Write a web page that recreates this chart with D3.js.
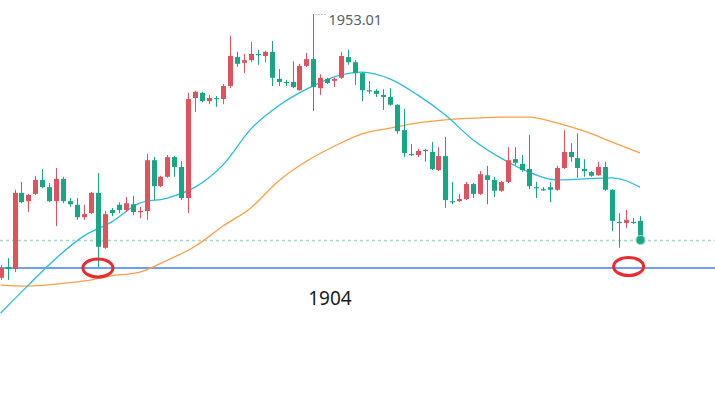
<!DOCTYPE html>
<html>
<head>
<meta charset="utf-8">
<script src="https://cdn.jsdelivr.net/npm/d3@7"></script>
<style>
  html, body { margin: 0; padding: 0; background: #fff; }
  #mySVG { display: block; }
</style>
</head>
<body>
<svg id="mySVG" width="715" height="393"></svg>
<script>
// ---candle data---
var Opens = [1902.1,1904.2,1903.8,1918.5,1916.9,1918.3,1921.0,1919.6,1916.9,1921.2,
  1916.9,1916.2,1913.8,1914.6,1918.5,1907.9,1915.2,1916.2,1915.2,1916.3,
  1914.8,1915.0,1924.8,1919.8,1921.6,1925.4,1923.5,1917.5,1936.8,1937.8,
  1936.2,1936.8,1936.6,1939.1,1944.7,1943.6,1944.1,1945.3,1944.9,1945.7,
  1940.5,1939.9,1939.9,1938.3,1943.0,1944.3,1938.7,1940.5,1940.1,1940.7,
  1944.7,1943.7,1941.6,1938.3,1938.2,1937.4,1937.0,1935.5,1930.6,1926.0,
  1925.8,1926.8,1926.4,1922.9,1925.6,1916.9,1916.9,1917.3,1920.2,1918.3,
  1921.9,1921.0,1918.9,1920.6,1925.0,1924.1,1923.1,1919.6,1919.2,1919.6,
  1919.1,1923.3,1926.4,1925.2,1923.1,1922.5,1921.9,1923.5,1919.1,1912.9,
  1912.7,1912.9,1913.1]
var Highs = [1904.6,1905.9,1919.1,1920.6,1918.3,1921.8,1923.1,1920.4,1923.3,1921.6,
  1917.5,1917.5,1916.2,1918.7,1922.3,1915.0,1915.6,1916.7,1917.7,1917.9,
  1915.8,1926.0,1925.4,1921.8,1925.8,1925.6,1924.6,1937.8,1938.2,1938.0,
  1937.4,1937.2,1939.5,1948.8,1945.7,1945.3,1947.6,1946.1,1945.9,1947.8,
  1942.4,1940.3,1943.9,1943.4,1945.5,1953.01,1941.4,1940.7,1940.7,1945.7,
  1946.1,1944.1,1941.8,1940.1,1938.5,1938.5,1938.7,1935.6,1934.7,1927.9,
  1927.0,1927.0,1928.3,1927.3,1929.3,1920.6,1918.3,1920.6,1920.4,1922.7,
  1923.7,1921.6,1920.8,1927.3,1927.3,1925.8,1929.7,1920.6,1919.6,1920.6,
  1923.7,1930.6,1928.1,1930.0,1925.0,1922.7,1924.5,1924.5,1919.2,1914.6,
  1915.2,1913.6,1914.0]
var Lows = [1901.7,1901.7,1903.2,1916.5,1914.8,1918.1,1919.4,1916.7,1912.1,1916.5,
  1915.8,1913.3,1913.3,1914.4,1904.2,1907.7,1914.0,1914.6,1914.8,1914.2,
  1913.6,1913.3,1917.1,1919.6,1921.4,1921.6,1917.1,1914.6,1934.1,1936.0,
  1935.6,1935.1,1935.6,1938.7,1942.8,1941.6,1943.7,1943.2,1943.7,1939.1,
  1939.1,1939.1,1938.7,1938.2,1942.8,1934.3,1937.4,1939.5,1938.9,1940.5,
  1943.2,1939.3,1936.2,1937.6,1937.0,1934.5,1935.3,1929.9,1925.4,1925.6,
  1925.4,1924.5,1922.9,1922.7,1915.6,1916.3,1916.7,1917.1,1917.5,1918.1,
  1916.3,1917.7,1918.7,1920.4,1923.9,1922.5,1919.2,1917.5,1918.9,1916.7,
  1918.9,1923.1,1924.5,1921.4,1921.6,1921.6,1921.8,1918.9,1911.1,1907.9,
  1911.7,1912.5,1909.2]
var Closes = [1904.0,1903.8,1918.5,1916.7,1918.1,1921.0,1919.6,1916.9,1921.2,1916.9,
  1916.3,1913.8,1914.4,1918.5,1908.1,1914.4,1914.6,1915.2,1916.5,1914.8,
  1915.0,1924.8,1919.8,1921.6,1925.4,1923.5,1917.5,1936.6,1938.0,1936.2,
  1936.8,1936.6,1939.1,1944.9,1943.4,1944.1,1945.3,1945.1,1945.7,1940.7,
  1939.9,1939.7,1938.9,1943.0,1944.3,1938.9,1940.7,1939.7,1940.5,1944.9,
  1943.7,1941.6,1938.3,1938.2,1937.6,1937.0,1935.5,1930.4,1926.2,1925.8,
  1926.6,1926.6,1923.1,1925.6,1917.1,1916.7,1917.3,1920.2,1918.3,1922.1,
  1921.0,1918.9,1920.6,1924.8,1924.3,1922.9,1919.8,1919.4,1919.1,1919.1,
  1923.3,1926.4,1925.4,1923.3,1922.7,1921.8,1923.5,1919.1,1913.1,1912.7,
  1913.3,1912.7,1909.4]

// ---moving averages, sampled every 4th candle---
var MaIdx = [0,4,8,12,16,20,24,28,32,36,40,44,48,52,56,60,64,68,72,76,80,84,88,92]
var MaFast = [1895.3,1900.7,1905.9,1910.2,1912.9,1916.5,1917.5,1919.6,1923.9,1930.8,
  1935.3,1938.5,1940.9,1941.8,1940.5,1937.4,1933.5,1928.7,1925.2,1922.5,
  1921.0,1921.2,1921.4,1919.6]
var MaSlow = [1900.7,1900.5,1900.9,1901.5,1902.5,1903.2,1905.5,1908.2,1912.1,1915.6,
  1920.8,1924.6,1927.5,1929.9,1931.0,1932.0,1932.6,1932.9,1933.1,1933.1,
  1932.0,1930.4,1928.3,1926.2]

// ---levels and notes---
var SupportLevel = 1904
var SupportLabel = "1904"
var HighLabel = "1953.01"
var MarkIdx = [14, 90]

var UpColor = "#e0525e"
var DownColor = "#17a784"

var MySVG = d3.select("#mySVG")

var X = d3.scaleLinear().domain([0, Opens.length - 1]).range([0.6, 640])
var Y = d3.scaleLinear().domain([1904, 1953.01]).range([268, 14])

var candles = d3.range(Opens.length).map(function(i)
{
    return { i: i, o: Opens[i], h: Highs[i], l: Lows[i], c: Closes[i] }
})

//---support line---
MySVG.append("line")
.attr("x1", 0).attr("x2", 715)
.attr("y1", Y(SupportLevel)).attr("y2", Y(SupportLevel))
.attr("stroke", "#3f7ff2")
.attr("stroke-width", 1.3)

//---last price line---
var lastClose = Closes[Closes.length - 1]
MySVG.append("line")
.attr("x1", 0).attr("x2", 715)
.attr("y1", Y(lastClose) + 0.5).attr("y2", Y(lastClose) + 0.5)
.attr("stroke", "#9fdbc5")
.attr("stroke-width", 1.4)
.attr("stroke-dasharray", "3,3")

//---moving averages---
var maLine = function(vals)
{
    return d3.line()
    .x(function(d, k) { return X(MaIdx[k]) })
    .y(function(d) { return Y(d) })
    .curve(d3.curveMonotoneX)(vals)
}
MySVG.append("path")
.attr("d", maLine(MaSlow))
.attr("fill", "none")
.attr("stroke", "#fca046")
.attr("stroke-width", 1.3)
MySVG.append("path")
.attr("d", maLine(MaFast))
.attr("fill", "none")
.attr("stroke", "#25bde0")
.attr("stroke-width", 1.3)

//---candles---
var candleG = MySVG.append("g").attr("id", "candleG")
var cg = candleG.selectAll("g").data(candles).enter().append("g")
cg.append("line")
.attr("x1", function(d) { return Math.round(X(d.i)) + 0.5 })
.attr("x2", function(d) { return Math.round(X(d.i)) + 0.5 })
.attr("y1", function(d) { return Y(d.h) })
.attr("y2", function(d) { return Y(d.l) })
.attr("stroke", function(d) { return d.c >= d.o ? UpColor : DownColor })
.attr("stroke-width", 1)
cg.append("rect")
.attr("x", function(d) { return Math.round(X(d.i)) - 2 })
.attr("width", 5)
.attr("y", function(d) { return Y(Math.max(d.o, d.c)) })
.attr("height", function(d) { return Math.max(1.2, Math.abs(Y(d.o) - Y(d.c))) })
.attr("fill", function(d) { return d.c >= d.o ? UpColor : DownColor })

//---last price dot---
MySVG.append("circle")
.attr("cx", Math.round(X(Opens.length - 1)) + 0.5)
.attr("cy", Y(lastClose))
.attr("r", 4.5)
.attr("fill", DownColor)
.attr("stroke", "#8fd6bf")
.attr("stroke-width", 1.2)

//---high label---
var hiIdx = Highs.indexOf(d3.max(Highs))
var hx = Math.round(X(hiIdx)) + 0.5
MySVG.append("line")
.attr("x1", hx + 2).attr("x2", hx + 14)
.attr("y1", Y(Highs[hiIdx]) + 0.5).attr("y2", Y(Highs[hiIdx]) + 0.5)
.attr("stroke", "#8a9099")
.attr("stroke-width", 1)
.attr("stroke-dasharray", "1,2")
MySVG.append("text")
.attr("x", hx + 15)
.attr("y", Y(Highs[hiIdx]) + 10.5)
.attr("font-family", "Noto Sans, sans-serif")
.attr("font-size", 14.5)
.attr("fill", "#58606c")
.text(HighLabel)

//---red ellipses on the lows---
MySVG.selectAll("ellipse.mark").data(MarkIdx).enter().append("ellipse")
.attr("class", "mark")
.attr("cx", function(d, k) { return X(d) + (k == 1 ? 2.5 : 0) })
.attr("cy", function(d, k) { return Y(SupportLevel) - (k == 1 ? 1.5 : 0) })
.attr("rx", 15)
.attr("ry", 9)
.attr("fill", "none")
.attr("stroke", "#eb2b2f")
.attr("stroke-width", 3)

//---support label---
MySVG.append("text")
.attr("x", 330)
.attr("y", Y(SupportLevel) + 37)
.attr("text-anchor", "middle")
.attr("font-family", "Noto Sans, sans-serif")
.attr("font-size", 19)
.attr("fill", "#1a1a1a")
.text(SupportLabel)
</script>
</body>
</html>
